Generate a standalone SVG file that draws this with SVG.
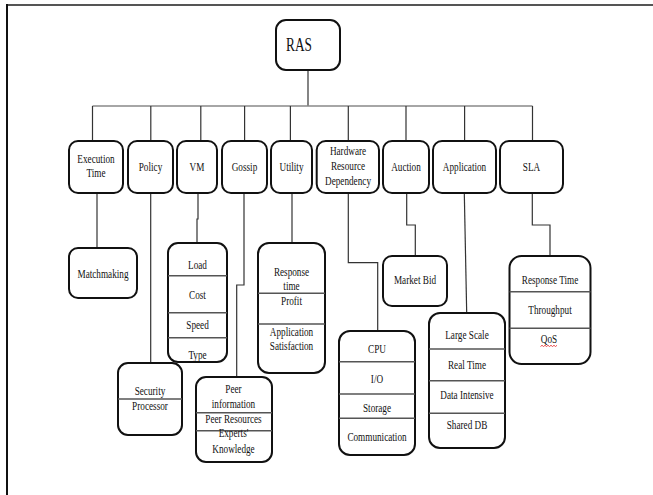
<svg xmlns="http://www.w3.org/2000/svg" width="653" height="495" viewBox="0 0 653 495">
<style>
.box{fill:#fff;stroke:#111;stroke-width:2}
.div{stroke:#555;stroke-width:1.6}
.con{fill:none;stroke:#333;stroke-width:1.2}
.t text{font-family:"Liberation Serif","Times New Roman",serif;font-size:11.5px;fill:#111;text-anchor:middle}
.t text.ras{font-size:18.5px}
</style>
<rect width="653" height="495" fill="#fff"/>
<g id="frame">
<line x1="6" y1="5" x2="653" y2="5" stroke="#555" stroke-width="2"/>
<line x1="7" y1="4" x2="7" y2="495" stroke="#111" stroke-width="2"/>
</g>
<g id="connectors">
<path class="con" d="M308,70V106"/>
<path class="con" d="M92.5,106H532.5" style="stroke:#888;stroke-width:1.6"/>
<path class="con" d="M92.5,106V141M150.8,106V141M200.8,106V141M244.6,106V141M290.4,106V141M348.3,106V141M406,106V141M464.6,106V141M532.5,106V141"/>
<path class="con" d="M97,193V248"/>
<path class="con" d="M150.7,193V363"/>
<path class="con" d="M198,193V219H197V243"/>
<path class="con" d="M244,193V285H236.7V377"/>
<path class="con" d="M292,193V243"/>
<path class="con" d="M348.3,193V262.7H377.7V331"/>
<path class="con" d="M406.7,193V225H415.3V256"/>
<path class="con" d="M464.3,193L466.7,313"/>
<path class="con" d="M532.3,193V225H550V256"/>
</g>
<g class="t">
<g id="ras">
<rect class="box" x="276" y="20" width="64" height="50" rx="10"/>
<text class="ras" transform="translate(299,51) scale(0.72,1)">RAS</text>
</g>
<g id="execution-time">
<rect class="box" x="69" y="141" width="54" height="52" rx="9"/>
<text transform="translate(96,162.5) scale(0.8,1)">Execution</text>
<text transform="translate(96,176.5) scale(0.8,1)">Time</text>
</g>
<g id="policy">
<rect class="box" x="128" y="141" width="45" height="52" rx="9"/>
<text transform="translate(150.5,170.5) scale(0.8,1)">Policy</text>
</g>
<g id="vm">
<rect class="box" x="177" y="141" width="40" height="52" rx="9"/>
<text transform="translate(197,170.5) scale(0.8,1)">VM</text>
</g>
<g id="gossip">
<rect class="box" x="222" y="141" width="45" height="52" rx="9"/>
<text transform="translate(244.5,170.5) scale(0.8,1)">Gossip</text>
</g>
<g id="utility">
<rect class="box" x="271" y="141" width="41" height="52" rx="9"/>
<text transform="translate(291.5,170.5) scale(0.8,1)">Utility</text>
</g>
<g id="hardware-resource-dependency">
<rect class="box" x="316.7" y="141" width="62.3" height="52" rx="9"/>
<text transform="translate(348,155) scale(0.8,1)">Hardware</text>
<text transform="translate(348,170) scale(0.8,1)">Resource</text>
<text transform="translate(348,185) scale(0.8,1)">Dependency</text>
</g>
<g id="auction">
<rect class="box" x="383" y="141" width="46" height="52" rx="9"/>
<text transform="translate(406,170.5) scale(0.8,1)">Auction</text>
</g>
<g id="application">
<rect class="box" x="433" y="141" width="63" height="52" rx="9"/>
<text transform="translate(464.5,170.5) scale(0.8,1)">Application</text>
</g>
<g id="sla">
<rect class="box" x="500" y="141" width="63" height="52" rx="9"/>
<text transform="translate(531.5,170.5) scale(0.8,1)">SLA</text>
</g>
<g id="matchmaking">
<rect class="box" x="69" y="248" width="68" height="50" rx="9"/>
<text transform="translate(103,277.5) scale(0.8,1)">Matchmaking</text>
</g>
<g id="security-processor">
<rect class="box" x="118" y="363" width="64" height="72" rx="10"/>
<line class="div" x1="118" y1="399" x2="182" y2="399"/>
<text transform="translate(150,394.5) scale(0.8,1)">Security</text>
<text transform="translate(150,410) scale(0.8,1)">Processor</text>
</g>
<g id="vm-list">
<rect class="box" x="168" y="243" width="59" height="119" rx="10"/>
<line class="div" x1="168" y1="275.7" x2="227" y2="275.7"/>
<line class="div" x1="168" y1="312.7" x2="227" y2="312.7"/>
<line class="div" x1="168" y1="337.7" x2="227" y2="337.7"/>
<text transform="translate(197.5,269) scale(0.8,1)">Load</text>
<text transform="translate(197.5,298.5) scale(0.8,1)">Cost</text>
<text transform="translate(197.5,328.5) scale(0.8,1)">Speed</text>
<text transform="translate(197.5,358.5) scale(0.8,1)">Type</text>
</g>
<g id="gossip-list">
<rect class="box" x="196" y="377" width="76" height="85" rx="10"/>
<line class="div" x1="196" y1="412.7" x2="272" y2="412.7"/>
<line class="div" x1="196" y1="430.7" x2="272" y2="430.7"/>
<text transform="translate(233.5,392.5) scale(0.8,1)">Peer</text>
<text transform="translate(233.5,407.5) scale(0.8,1)">information</text>
<text transform="translate(233.5,423) scale(0.8,1)">Peer Resources</text>
<text transform="translate(233.5,437) scale(0.8,1)">Experts'</text>
<text transform="translate(233.5,452.5) scale(0.8,1)">Knowledge</text>
</g>
<g id="utility-list">
<rect class="box" x="258" y="243" width="67" height="130" rx="11"/>
<line class="div" x1="258" y1="293.3" x2="325" y2="293.3"/>
<line class="div" x1="258" y1="324" x2="325" y2="324"/>
<text transform="translate(291.5,276) scale(0.8,1)">Response</text>
<text transform="translate(291.5,290) scale(0.8,1)">time</text>
<text transform="translate(291.5,305) scale(0.8,1)">Profit</text>
<text transform="translate(291.5,335.5) scale(0.8,1)">Application</text>
<text transform="translate(291.5,350) scale(0.8,1)">Satisfaction</text>
</g>
<g id="hardware-list">
<rect class="box" x="339" y="331" width="76" height="124" rx="11"/>
<line class="div" x1="339" y1="361.7" x2="415" y2="361.7"/>
<line class="div" x1="339" y1="394" x2="415" y2="394"/>
<line class="div" x1="339" y1="418.3" x2="415" y2="418.3"/>
<text transform="translate(377,352.5) scale(0.8,1)">CPU</text>
<text transform="translate(377,382.5) scale(0.8,1)">I/O</text>
<text transform="translate(377,411.8) scale(0.8,1)">Storage</text>
<text transform="translate(377,441) scale(0.8,1)">Communication</text>
</g>
<g id="market-bid">
<rect class="box" x="383" y="256" width="64" height="50" rx="9"/>
<text transform="translate(415,284) scale(0.8,1)">Market Bid</text>
</g>
<g id="application-list">
<rect class="box" x="429" y="313" width="76" height="135" rx="11"/>
<line class="div" x1="429" y1="349" x2="505" y2="349"/>
<line class="div" x1="429" y1="380.7" x2="505" y2="380.7"/>
<line class="div" x1="429" y1="413.3" x2="505" y2="413.3"/>
<text transform="translate(467,339) scale(0.8,1)">Large Scale</text>
<text transform="translate(467,369) scale(0.8,1)">Real Time</text>
<text transform="translate(467,399) scale(0.8,1)">Data Intensive</text>
<text transform="translate(467,429) scale(0.8,1)">Shared DB</text>
</g>
<g id="sla-list">
<rect class="box" x="509.5" y="256" width="81" height="108" rx="12"/>
<line class="div" x1="509.5" y1="291.7" x2="590.5" y2="291.7"/>
<line class="div" x1="509.5" y1="328.3" x2="590.5" y2="328.3"/>
<text transform="translate(550,283.5) scale(0.8,1)">Response Time</text>
<text transform="translate(550,313.5) scale(0.8,1)">Throughput</text>
<text transform="translate(549,343) scale(0.8,1)">QoS</text>
<path d="M540.5,346.5l1.5,-1.2l1.5,1.2l1.5,-1.2l1.5,1.2l1.5,-1.2l1.5,1.2l1.5,-1.2l1.5,1.2l1.5,-1.2l1.5,1.2l1.5,-1.2" fill="none" stroke="#e02020" stroke-width="0.8"/>
</g>
</g>
</svg>
